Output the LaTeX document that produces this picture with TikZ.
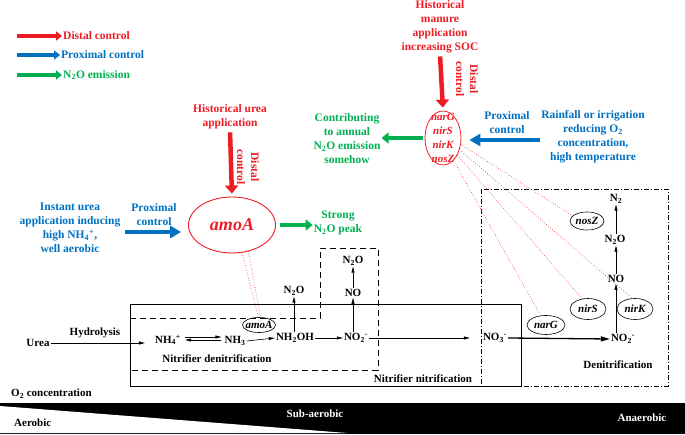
\documentclass[tikz,border=0pt]{standalone}
\usepackage{fontspec}
\setmainfont{Liberation Serif}
\usetikzlibrary{arrows.meta,shapes.geometric}
\definecolor{dred}{RGB}{237,28,36}
\definecolor{dblue}{RGB}{0,112,192}
\definecolor{dgreen}{RGB}{0,176,80}
\begin{document}
\begin{tikzpicture}[x=1pt,y=-1pt,
  font=\bfseries\fontsize{11}{13}\selectfont,
  lab/.style={inner sep=1pt},
  ctext/.style={align=center,inner sep=1pt,font=\bfseries\fontsize{11.5}{14}\selectfont},
  redarrow/.style={draw=dred,line width=4.5pt,-{Triangle[length=8pt,width=13pt]}},
  bluearrow/.style={draw=dblue,line width=4.5pt,-{Triangle[length=11pt,width=12pt]}},
  greenarrow/.style={draw=dgreen,line width=4.5pt,-{Triangle[length=7pt,width=11pt]}},
  legarrow/.style={line width=4pt,-{Triangle[length=6pt,width=9pt]}},
  thinarrow/.style={line width=0.6pt,-{Triangle[length=6pt,width=3pt]}},
  thickarrow/.style={line width=1.3pt,-{Triangle[length=9pt,width=5pt]}},
  gell/.style={ellipse,draw,line width=0.6pt,inner sep=0pt},
  gtext/.style={inner sep=0pt,font=\bfseries\itshape\fontsize{11}{13}\selectfont},
  dotline/.style={draw=dred,line width=0.6pt,dotted},
  dbox/.style={line width=0.8pt,dash pattern=on 6pt off 4pt},
  ddbox/.style={line width=0.7pt,dash pattern=on 5pt off 2pt on 1pt off 2pt},
]
\useasboundingbox (0,0) rectangle (685,435);

% legend
\coordinate (l1s) at (17,36);
\coordinate (l2s) at (17,55);
\coordinate (l3s) at (17,75);
\node[ctext,text=dred,anchor=west] (l1) at (62,36) {Distal control};
\node[ctext,text=dblue,anchor=west] (l2) at (60,55) {Proximal control};
\node[ctext,text=dgreen,anchor=west] (l3) at (62,75) {N\textsubscript{2}O emission};
\draw[legarrow,draw=dred] (l1s) -- (l1.west);
\draw[legarrow,draw=dblue] (l2s) -- (l2.west);
\draw[legarrow,draw=dgreen] (l3s) -- (l3.west);

% left amoA cluster
\node[ctext,text=dred] (hurea) at (230,117) {Historical urea\\application};
\node[ctext,text=dred,rotate=-90] (dc1) at (248,167) {Distal\\control};
\node[ctext,text=dblue] (inst) at (70,228) {Instant urea\\application inducing\\high NH\textsubscript{4}\textsuperscript{+},\\well aerobic};
\node[ctext,text=dblue] (pc1) at (154,215) {Proximal\\control};
\node[ellipse,draw=dred,line width=0.9pt,minimum width=87pt,minimum height=56pt,inner sep=0pt] (amoA) at (232,225) {};
\node[inner sep=0pt,text=dred,font=\bfseries\itshape\fontsize{18}{20}\selectfont] (amoAt) at (232,225) {amoA};
\node[ctext,text=dgreen] (peak) at (338,223) {Strong\\N\textsubscript{2}O peak};
\draw[redarrow,shorten <=2pt,shorten >=3pt] (hurea.south) -- (amoA.north);
\draw[bluearrow,shorten <=3pt,shorten >=7pt] ([yshift=-4pt]inst.east) -- ([yshift=-7pt]amoA.west);
\draw[greenarrow,shorten <=4pt] (amoA.east) -- (amoA.east -| peak.west);

% right cluster
\node[ctext,text=dred] (manure) at (440,27) {Historical\\manure\\application\\increasing SOC};
\node[ctext,text=dred,rotate=-90] (dc2) at (467,79) {Distal\\control};
\node[ellipse,draw=dred,line width=0.8pt,minimum width=36pt,minimum height=54pt,inner sep=0pt] (R) at (443,138) {};
\node[align=center,inner sep=0pt,text=dred,font=\bfseries\itshape\fontsize{11}{14}\selectfont] (Rt) at (443,138) {narG\\nirS\\nirK\\nosZ};
\node[ctext,text=dblue] (pc2) at (507,123) {Proximal\\control};
\node[ctext,text=dblue] (rain) at (593,137) {Rainfall or irrigation\\reducing O\textsubscript{2}\\concentration,\\high temperature};
\node[ctext,text=dgreen] (contrib) at (347,139) {Contributing\\to annual\\N\textsubscript{2}O emission\\somehow};
\draw[redarrow,shorten <=2pt,shorten >=3pt] (manure.south) -- (R.north);
\draw[bluearrow,shorten >=8pt] ([yshift=-3pt]rain.west) -- ([yshift=-2pt]R.east);
\draw[greenarrow,shorten <=2pt] (R.west) -- (R.west -| contrib.east);

% boxes
\draw[line width=0.8pt] (130,304) rectangle (521,386);
\draw[dbox] (130,318) -- (320,318) -- (320,248) -- (378,248) -- (378,370) -- (130,370);
\draw[ddbox] (481,189) rectangle (668,386);

% chemistry labels
\node[lab] (urea) at (38,343) {Urea};
\node[lab] (hyd) at (95,333) {Hydrolysis};
\node[lab] (nh4) at (168,340) {NH\textsubscript{4}\textsuperscript{+}};
\node[lab] (nh3) at (235,341) {NH\textsubscript{3}};
\node[lab] (nh2oh) at (295,338) {NH\textsubscript{2}OH};
\node[lab] (no2a) at (356,338) {NO\textsubscript{2}\textsuperscript{-}};
\node[lab] (n2oa) at (294,291) {N\textsubscript{2}O};
\node[lab] (noa) at (353,293) {NO};
\node[lab] (n2ob) at (353,261) {N\textsubscript{2}O};
\node[lab] (no3) at (495,338) {NO\textsubscript{3}\textsuperscript{-}};
\node[lab] (no2b) at (623,339) {NO\textsubscript{2}\textsuperscript{-}};
\node[lab] (nob) at (616,279) {NO};
\node[lab] (n2oc) at (615,240) {N\textsubscript{2}O};
\node[lab] (n2) at (616,199) {N\textsubscript{2}};

\draw[thinarrow,shorten >=9pt] (urea.east) -- (urea.east -| nh4.west);
\draw[thinarrow,shorten <=3pt,shorten >=2pt] ([yshift=3pt]nh4.east) -- ([yshift=3pt]nh4.east -| nh3.west);
\draw[thinarrow,shorten <=2pt,shorten >=3pt] ([yshift=0pt]nh4.east -| nh3.west) -- ([yshift=0pt]nh4.east);
\draw[thinarrow] (nh3.east) -- (nh2oh.west);
\draw[thinarrow] (nh2oh.east) -- (no2a.west);
\draw[thinarrow,shorten >=12pt] (no2a.east) -- (no3.west);
\draw[thickarrow] (no3.east) -- (no2b.west);
\draw[thinarrow] (nh2oh.north -| n2oa) -- (n2oa.south);
\draw[thinarrow] (no2a.north -| noa) -- (noa.south);
\draw[thinarrow] (noa.north) -- (n2ob.south);
\draw[thinarrow] (no2b.north -| nob) -- (nob.south);
\draw[thinarrow] (nob.north) -- (nob.north |- n2oc.south);
\draw[thinarrow] (n2oc.north -| n2) -- (n2.south);

% gene ellipses
\node[gell,minimum width=33pt,minimum height=15pt] (ga) at (259,325) {};
\node[gtext] at (259,325) {amoA};
\node[gell,minimum width=34pt,minimum height=18pt] (gz) at (587,221) {};
\node[gtext] at (587,221) {nosZ};
\node[gell,minimum width=36pt,minimum height=21pt] (gs) at (588,309) {};
\node[gtext] at (588,309) {nirS};
\node[gell,minimum width=36pt,minimum height=21pt] (gk) at (635,309) {};
\node[gtext] at (635,309) {nirK};
\node[gell,minimum width=38pt,minimum height=19pt] (gg) at (546,325) {};
\node[gtext] at (546,325) {narG};

\draw[dotline] (amoA.-70) -- (ga.95);
\draw[dotline] (amoA.-58) -- (ga.80);
\draw[dotline] (R.-20) -- (gz.160);
\draw[dotline] (R.-35) -- (gk.105);
\draw[dotline] (R.-50) -- (gs.120);
\draw[dotline] (R.-65) -- (gg.120);

% region labels
\node[lab] (ndn) at (217,359) {Nitrifier denitrification};
\node[lab] (nnt) at (423,379) {Nitrifier nitrification};
\node[lab] (dnt) at (618,365) {Denitrification};
\node[lab,anchor=west] (o2) at (10,394) {O\textsubscript{2} concentration};

% O2 bar
\fill[black] (0,403) rectangle (685,434);
\fill[white] (0,406) -- (347,433) -- (0,433) -- cycle;
\node[lab,anchor=west] (aer) at (13,423) {Aerobic};
\node[lab,text=white] (sub) at (315,414) {Sub-aerobic};
\node[lab,text=white] (ana) at (642,418) {Anaerobic};
\end{tikzpicture}
\end{document}
